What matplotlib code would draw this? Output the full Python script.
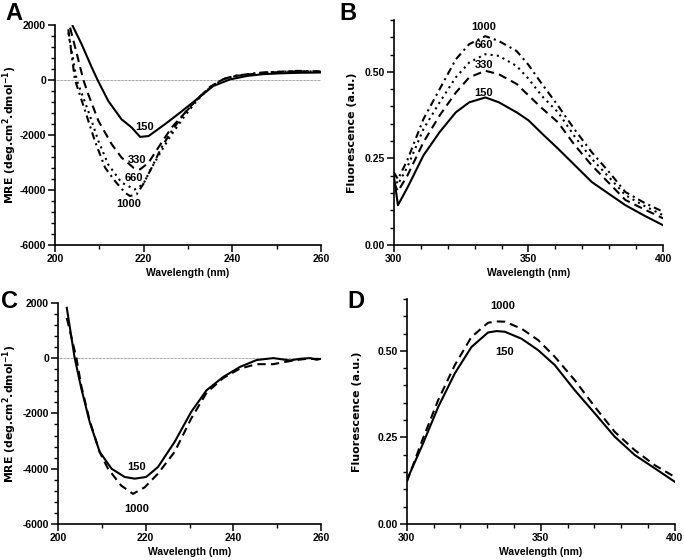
import matplotlib
matplotlib.use('Agg')
import matplotlib.pyplot as plt
from matplotlib.ticker import MultipleLocator

plt.rcParams['font.family'] = 'Liberation Sans'
plt.rcParams['font.weight'] = 'bold'
plt.rcParams['mathtext.default'] = 'bf'
plt.rcParams['axes.unicode_minus'] = False

# Panel A - CD spectra, four concentrations
a_x_150 = [204, 206, 208.3, 209.6, 212, 215, 217.3, 219.2, 221.1, 224.8, 228.2, 232, 235.7, 239.5, 243.3, 247, 250.8, 255, 260]
a_y_150 = [1960, 1300, 450, 0, -760, -1430, -1730, -2070, -2040, -1610, -1190, -700, -220, 20, 145, 210, 240, 260, 270]
a_x_330 = [203.4, 205, 206.4, 207.5, 209.8, 212.8, 215, 217.7, 219.2, 221.1, 223.3, 226.3, 229, 232, 235, 238, 241, 247, 254.6, 260]
a_y_330 = [1900, 900, 0, -520, -1490, -2340, -2820, -3190, -3250, -3010, -2460, -1730, -1250, -700, -250, 30, 150, 260, 310, 300]
a_x_660 = [203, 204.9, 207.5, 209.8, 212, 215, 218, 219.9, 221.8, 224, 226.3, 229, 232, 235, 238, 241, 247, 254.6, 260]
a_y_660 = [1720, 0, -1130, -2220, -3070, -3730, -3980, -3790, -3190, -2580, -1980, -1370, -750, -270, 30, 160, 270, 320, 300]
a_x_1000 = [203, 204.5, 206.8, 209, 211.3, 213.5, 215.8, 216.9, 218.4, 219.9, 221.8, 224, 226.3, 229, 232, 235, 238, 241, 247, 254.6, 260]
a_y_1000 = [1840, 0, -1130, -2220, -3190, -3670, -4100, -4220, -4160, -3790, -3190, -2460, -1860, -1250, -720, -260, 40, 160, 270, 330, 310]

# Panel B - fluorescence, four concentrations
b_x = [300, 301.5, 305, 311, 317, 323, 328, 334, 339, 345.6, 350, 355, 361, 367, 373.5, 380, 386, 393, 400]
b_y_150 = [0.2, 0.115, 0.165, 0.259, 0.326, 0.383, 0.412, 0.426, 0.412, 0.383, 0.36, 0.322, 0.278, 0.232, 0.182, 0.147, 0.115, 0.085, 0.057]
b_y_330 = [0.18, 0.155, 0.2, 0.297, 0.374, 0.44, 0.484, 0.503, 0.493, 0.465, 0.432, 0.395, 0.354, 0.29, 0.23, 0.178, 0.13, 0.103, 0.077]
b_y_660 = [0.2, 0.175, 0.225, 0.335, 0.412, 0.484, 0.527, 0.551, 0.546, 0.517, 0.48, 0.43, 0.383, 0.315, 0.249, 0.195, 0.144, 0.113, 0.086]
b_y_1000 = [0.21, 0.19, 0.245, 0.364, 0.45, 0.536, 0.58, 0.603, 0.589, 0.56, 0.52, 0.465, 0.402, 0.335, 0.268, 0.21, 0.153, 0.122, 0.096]

# Panel C - CD spectra, two concentrations
c_x_150 = [202, 203.8, 205.3, 207.2, 209.5, 212.2, 215.2, 217.5, 220.1, 222.8, 226.6, 230.4, 233.9, 237.7, 241.5, 245.3, 249.1, 252.9, 255.2, 257.5, 259, 260]
c_y_150 = [1820, 0, -1090, -2300, -3390, -4000, -4300, -4360, -4300, -3940, -3030, -1940, -1160, -680, -320, -70, 0, -85, -25, 0, -60, -25]
c_x_1000 = [202, 204.2, 205.3, 207.2, 209.5, 211.4, 214.4, 217.1, 219.8, 222.8, 226.6, 230.4, 233.9, 237.7, 241.5, 245.3, 249.1, 252.1, 254.4, 256.7, 260]
c_y_1000 = [1450, 0, -1000, -2250, -3400, -4000, -4610, -4910, -4670, -4180, -3390, -2180, -1250, -720, -380, -220, -220, -130, -70, -25, -30]

# Panel D - fluorescence, two concentrations
d_x = [300, 305.5, 311.7, 317.9, 324.1, 330.3, 333.5, 336.6, 342.8, 349, 355.2, 362.7, 370.2, 377.6, 385.1, 392.5, 400]
d_y_150 = [0.127, 0.223, 0.338, 0.435, 0.511, 0.553, 0.557, 0.555, 0.535, 0.502, 0.459, 0.386, 0.319, 0.252, 0.199, 0.161, 0.122]
d_y_1000 = [0.122, 0.237, 0.358, 0.459, 0.54, 0.581, 0.585, 0.584, 0.564, 0.531, 0.483, 0.415, 0.338, 0.266, 0.213, 0.17, 0.136]

styles = {
    '150': '-',
    '330': (0, (4, 2.5)),
    '660': (0, (1, 2)),
    '1000': (0, (3.5, 2, 1, 2)),
}
LW = 1.5

fig = plt.figure(figsize=(6.85, 5.6), dpi=100)
axA = fig.add_axes([0.0803, 0.5625, 0.3883, 0.393])
axB = fig.add_axes([0.575, 0.5625, 0.393, 0.402])
axC = fig.add_axes([0.0847, 0.0643, 0.384, 0.395])
axD = fig.add_axes([0.594, 0.0643, 0.391, 0.402])


def style_axis(ax, ylab_x):
    for s in ['top', 'right']:
        ax.spines[s].set_visible(False)
    for s in ['left', 'bottom']:
        ax.spines[s].set_linewidth(1.2)
    ax.tick_params(which='major', length=5, width=1.1, labelsize=7.5, pad=1.5)
    ax.tick_params(which='minor', length=3, width=1.0)
    for lab in ax.get_xticklabels() + ax.get_yticklabels():
        lab.set_fontweight('bold')
    ax.set_xlabel('Wavelength (nm)', fontsize=7.5, fontweight='bold', labelpad=3)
    ax.yaxis.label.set_va('center')
    ax.yaxis.set_label_coords(ylab_x, 0.5)


def cd_axis(ax, ylab_x):
    ax.axhline(0, color='#444444', lw=0.5, ls=(0, (1, 1)), zorder=0)
    ax.set_xlim(200, 260)
    ax.set_ylim(-6000, 2000)
    ax.set_xticks([200, 220, 240, 260])
    ax.xaxis.set_minor_locator(MultipleLocator(10))
    ax.set_yticks([-6000, -4000, -2000, 0, 2000])
    ax.yaxis.set_minor_locator(MultipleLocator(400))
    ax.set_ylabel('MRE (deg.cm$^2$.dmol$^{-1}$)', fontsize=7.8, fontweight='bold',
                  family='DejaVu Sans')
    style_axis(ax, ylab_x)


def fl_axis(ax, ylab_x):
    ax.set_xlim(300, 400)
    ax.set_ylim(0, 0.65)
    ax.set_xticks([300, 350, 400])
    ax.xaxis.set_minor_locator(MultipleLocator(10))
    ax.set_yticks([0, 0.25, 0.5])
    ax.set_yticklabels(['0.00', '0.25', '0.50'])
    ax.yaxis.set_minor_locator(MultipleLocator(0.05))
    ax.set_ylabel('Fluorescence (a.u.)', fontsize=8, fontweight='bold',
                  family='DejaVu Sans')
    style_axis(ax, ylab_x)


# A
axA.plot(a_x_150, a_y_150, color='black', lw=LW, ls=styles['150'])
axA.plot(a_x_330, a_y_330, color='black', lw=LW, ls=styles['330'])
axA.plot(a_x_660, a_y_660, color='black', lw=LW, ls=styles['660'])
axA.plot(a_x_1000, a_y_1000, color='black', lw=LW, ls=styles['1000'])
cd_axis(axA, -0.172)
for txt, x, y in [('150', 220.3, -1710), ('330', 218.4, -2920), ('660', 217.7, -3550), ('1000', 216.7, -4500)]:
    axA.text(x, y, txt, ha='center', va='center', fontsize=8, fontweight='bold')

# B
axB.plot(b_x, b_y_150, color='black', lw=LW, ls=styles['150'])
axB.plot(b_x, b_y_330, color='black', lw=LW, ls=styles['330'])
axB.plot(b_x, b_y_660, color='black', lw=LW, ls=styles['660'])
axB.plot(b_x, b_y_1000, color='black', lw=LW, ls=styles['1000'])
fl_axis(axB, -0.156)
for txt, y in [('1000', 0.630), ('660', 0.577), ('330', 0.519), ('150', 0.439)]:
    axB.text(333.5, y, txt, ha='center', va='center', fontsize=8, fontweight='bold')

# C
axC.plot(c_x_150, c_y_150, color='black', lw=LW, ls=styles['150'])
axC.plot(c_x_1000, c_y_1000, color='black', lw=LW, ls=styles['330'])
cd_axis(axC, -0.182)
axC.text(217.9, -3940, '150', ha='center', va='center', fontsize=8, fontweight='bold')
axC.text(217.9, -5440, '1000', ha='center', va='center', fontsize=8, fontweight='bold')

# D
axD.plot(d_x, d_y_150, color='black', lw=LW, ls=styles['150'])
axD.plot(d_x, d_y_1000, color='black', lw=LW, ls=styles['330'])
fl_axis(axD, -0.187)
axD.text(335.9, 0.629, '1000', ha='center', va='center', fontsize=8, fontweight='bold')
axD.text(336.6, 0.497, '150', ha='center', va='center', fontsize=8, fontweight='bold')

# panel letters
for letter, x, y in [('A', 14, 14), ('B', 348, 14), ('C', 10, 302), ('D', 356, 302)]:
    fig.text(x / 685, 1 - y / 560, letter, ha='center', va='center', fontsize=17, fontweight='bold')

fig.savefig('out.png', dpi=100)
